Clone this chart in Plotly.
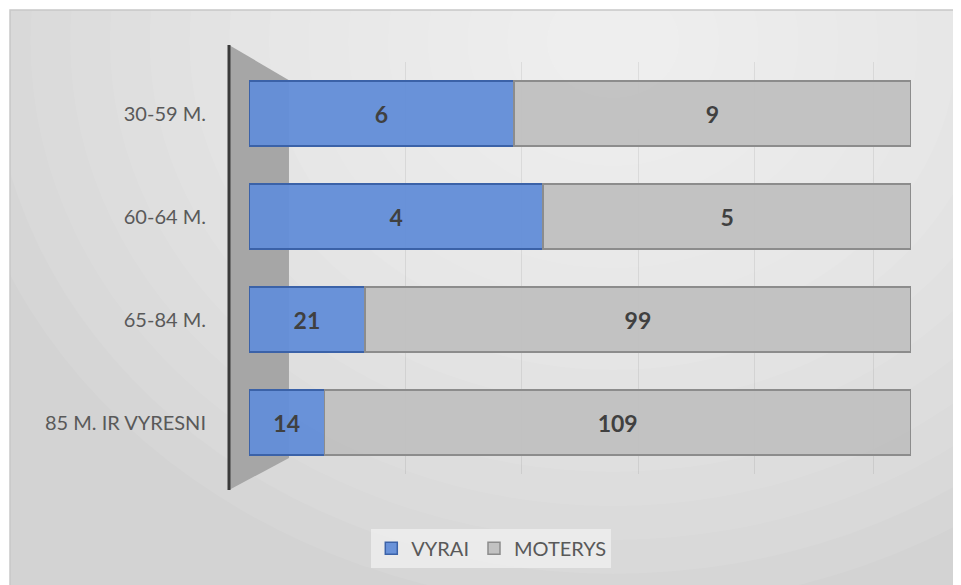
import plotly.graph_objects as go

# age groups, top to bottom as they appear in the chart
age_groups = ["30-59 M.", "60-64 M.", "65-84 M.", "85 M. IR VYRESNI"]
vyrai = [6, 4, 21, 14]
moterys = [9, 5, 99, 109]

FONT = "Lato"

fig = go.Figure()
fig.add_trace(go.Bar(
    y=age_groups, x=vyrai, name="VYRAI", orientation="h",
    text=vyrai, textposition="inside", insidetextanchor="middle",
    textfont=dict(family=FONT, size=23, color="#404040", weight="bold"),
    marker=dict(color="rgba(98,141,216,0.95)", line=dict(color="#3b62a8", width=1.5)),
))
fig.add_trace(go.Bar(
    y=age_groups, x=moterys, name="MOTERYS", orientation="h",
    text=moterys, textposition="inside", insidetextanchor="middle",
    textfont=dict(family=FONT, size=23, color="#404040", weight="bold"),
    marker=dict(color="rgba(192,192,192,0.95)", line=dict(color="#8c8c8c", width=1.5)),
))

# chart background box with a soft light spot near the top, then the grey side wall
box = dict(x0=-0.361, x1=1.0695, y0=-0.30, y1=1.126)
shapes = [dict(type="rect", xref="paper", yref="paper", **box,
               fillcolor="#d3d3d3", line=dict(width=0), layer="below")]
for i in range(16):
    r = 1.25 - i * 0.075
    shapes.append(dict(type="circle", xref="paper", yref="paper",
                       x0=0.55 - r * 0.8, x1=0.55 + r * 0.8, y0=1.05 - r * 1.1, y1=1.05 + r * 1.1,
                       fillcolor="rgba(255,255,255,0.075)", line=dict(width=0), layer="below"))
# white out anything of the light spot outside the box
for x0, x1, y0, y1 in [(-0.6, 1.3, 1.126, 1.6), (-0.6, -0.361, -0.5, 1.6), (1.0695, 1.3, -0.5, 1.6)]:
    shapes.append(dict(type="rect", xref="paper", yref="paper", x0=x0, x1=x1, y0=y0, y1=y1,
                       fillcolor="white", line=dict(width=0), layer="below"))
shapes.append(dict(type="rect", xref="paper", yref="paper", **box,
                   fillcolor="rgba(0,0,0,0)", line=dict(color="#c8c8c8", width=1.5), layer="below"))
shapes.append(dict(type="path", xref="paper", yref="paper",
                   path="M -0.0302,1.041 L 0.0604,0.956 L 0.0604,0.039 L -0.0302,-0.039 Z",
                   fillcolor="#a6a6a6", line=dict(width=0), layer="below"))
shapes.append(dict(type="line", xref="paper", yref="paper", x0=-0.0302, x1=-0.0302, y0=-0.039, y1=1.041,
                   line=dict(color="#3a3a3a", width=3), layer="below"))

fig.update_layout(
    width=961, height=585,
    barmode="stack", barnorm="fraction", bargap=0.37,
    paper_bgcolor="white", plot_bgcolor="rgba(0,0,0,0)",
    margin=dict(l=241, r=58, t=54, b=119),
    font=dict(family=FONT, size=20, color="#595959"),
    shapes=shapes,
    showlegend=True,
    legend=dict(orientation="h", x=0.366, xanchor="center", y=-0.18, yanchor="middle",
                bgcolor="rgba(240,240,240,0.75)", font=dict(size=20, color="#595959"),
                traceorder="normal"),
    xaxis=dict(range=[0, 1], showticklabels=False, showgrid=True,
               tickvals=[0.236, 0.412, 0.589, 0.764, 0.943],
               gridcolor="rgba(0,0,0,0.07)", zeroline=False, showline=False),
    yaxis=dict(autorange="reversed", showgrid=False, showline=False, ticks="outside",
               ticklen=38, tickcolor="rgba(0,0,0,0)", tickfont=dict(size=20, color="#595959")),
)

fig.write_html("out.html")
